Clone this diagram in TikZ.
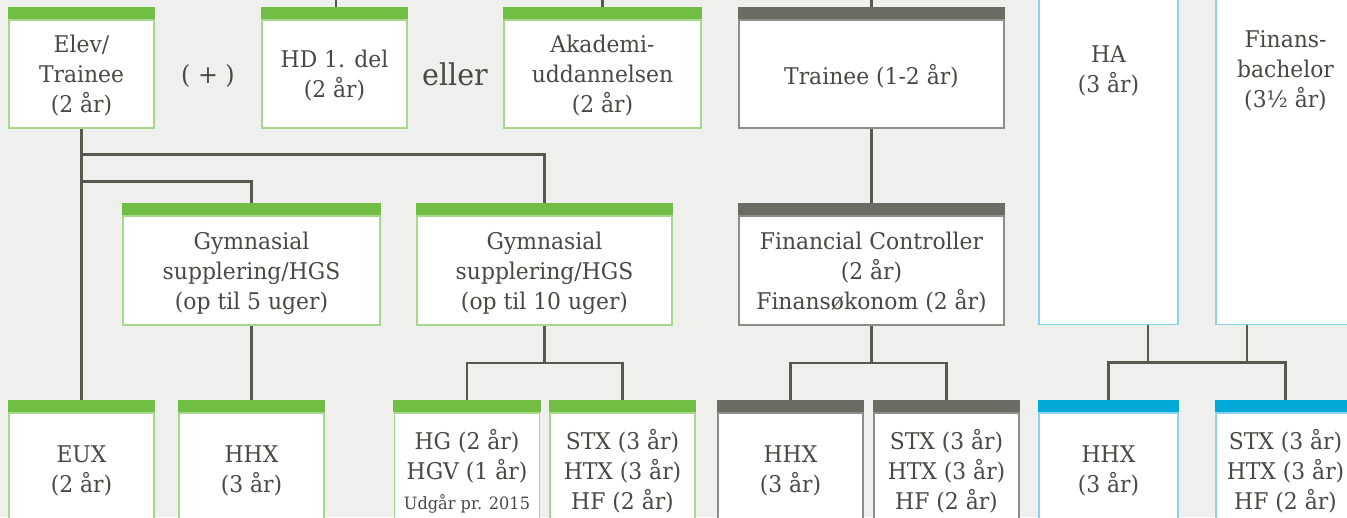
\documentclass[tikz,border=0pt]{standalone}
\usepackage{fontspec}
\setmainfont{DejaVu Serif}[FakeStretch=0.95]
\usetikzlibrary{positioning}

\definecolor{paper}{HTML}{EFEFED}
\definecolor{ink}{HTML}{464A40}
\definecolor{wire}{HTML}{555A4F}
\definecolor{greenbar}{HTML}{72BE44}
\definecolor{greenline}{HTML}{A5D88C}
\definecolor{greybar}{HTML}{696D63}
\definecolor{greyline}{HTML}{8C8E88}
\definecolor{bluebar}{HTML}{00A9D6}
\definecolor{blueline}{HTML}{8AD3EC}

\pgfdeclarelayer{bg}
\pgfdeclarelayer{lines}
\pgfsetlayers{bg,lines,main}

\tikzset{
  txt/.style={text=ink, align=center, text depth=0pt, font=\fontsize{23}{30}\selectfont},
  box/.style={txt, draw=#1, fill=white, line width=1.2pt, minimum width=145pt, inner sep=0pt},
  bar/.style={append after command={\pgfextra{\fill[#1] ([xshift=-0.6pt]\tikzlastnode.north west) rectangle ([xshift=0.6pt,yshift=12pt]\tikzlastnode.north east);}}},
  greenbox/.style={box=greenline, bar=greenbar},
  greybox/.style={box=greyline, bar=greybar},
  bluebox/.style={box=blueline, bar=bluebar, minimum width=139pt},
  link/.style={draw=wire, line width=2.6pt},
}

\begin{document}
\begin{tikzpicture}[x=1pt, y=-1pt, on grid]
  \useasboundingbox (0,0) rectangle (1347,517);
  \begin{pgfonlayer}{bg}
    \fill[paper] (0,0) rectangle (1347,517);
  \end{pgfonlayer}

  % top row
  \node[greenbox, minimum height=108pt] (elev) at (81.5,74) {Elev/\\Trainee\\(2 år)};
  \node[txt, font=\fontsize{25}{30}\selectfont] (plus) at (208,74) {( + )};
  \node[greenbox, minimum height=108pt] (hd) [right=253pt of elev] {HD 1. del\\(2 år)};
  \node[txt, font=\fontsize{30}{36}\selectfont] (eller) at (455,74) {eller};
  \node[greenbox, minimum height=108pt, minimum width=197pt] (akad) [right=268pt of hd] {Akademi-\\uddannelsen\\(2 år)};
  \node[greybox, minimum height=108pt, minimum width=265pt] (trainee) [right=269pt of akad] {Trainee (1-2 år)};

  % middle row
  \node[greenbox, minimum height=109pt, minimum width=257pt] (gym1) at (251.5,270.5) {Gymnasial\\supplering/HGS\\(op til 5 uger)};
  \node[greenbox, minimum height=109pt, minimum width=255pt] (gym2) [right=293pt of gym1] {Gymnasial\\supplering/HGS\\(op til 10 uger)};
  \node[greybox, minimum height=109pt, minimum width=265pt] (fc) [below=196.5pt of trainee] {Financial Controller\\(2 år)\\Finansøkonom (2 år)};
  \node[bluebox, minimum height=345pt, anchor=south,
        label={[txt, anchor=center, yshift=-90pt]north:HA\\(3 år)}] (ha) at (1108.5,325) {};
  \node[bluebox, minimum height=345pt, anchor=south,
        label={[txt, anchor=center, yshift=-90pt]north:Finans-\\bachelor\\(3½ år)}] (fin) at (1285.5,325) {};

  % bottom row
  \node[greenbox, minimum height=112pt] (eux) [below=395pt of elev] {EUX\\(2 år)};
  \node[greenbox, minimum height=112pt] (hhxa) [below=198.5pt of gym1] {HHX\\(3 år)};
  \node[greenbox, minimum height=112pt] (hg) at (467,469) {HG (2 år)\\HGV (1 år)\\{\fontsize{17}{26}\selectfont Udgår pr. 2015}};
  \node[greenbox, minimum height=112pt] (stxa) [right=155.5pt of hg] {STX (3 år)\\HTX (3 år)\\HF (2 år)};
  \node[greybox, minimum height=112pt] (hhxb) at (790.5,469) {HHX\\(3 år)};
  \node[greybox, minimum height=112pt] (stxb) [right=156pt of hhxb] {STX (3 år)\\HTX (3 år)\\HF (2 år)};
  \node[bluebox, minimum height=112pt] (hhxc) at (1108.5,469) {HHX\\(3 år)};
  \node[bluebox, minimum height=112pt] (stxc) [right=177pt of hhxc] {STX (3 år)\\HTX (3 år)\\HF (2 år)};

  % connectors
  \begin{pgfonlayer}{lines}
    \coordinate (hdin) at (336,-10);
    \coordinate (akin) at (602.5,-10);
    \coordinate (trin) at (871.5,-10);
    \draw[link] (hdin) -- (hdin |- hd.north);
    \draw[link] (akin) -- (akad);
    \draw[link] (trin) -- (trainee);

    \coordinate (j1) at ([yshift=-26pt]elev.south);
    \coordinate (j2) at ([yshift=-53pt]elev.south);
    \draw[link] (elev) -- (eux);
    \draw[link] (j1) -| (gym2.north);
    \draw[link] (j2) -| (gym1.north);
    \draw[link] (gym1) -- (hhxa);

    \coordinate (j3) at ([yshift=-37.5pt]gym2.south);
    \draw[link] (gym2.south) -- (j3);
    \draw[link] (hg.north) |- (j3) -| (stxa.north);

    \draw[link] (trainee) -- (fc);
    \coordinate (j4) at ([yshift=-37.5pt]fc.south);
    \draw[link] (fc.south) -- (j4);
    \draw[link] (hhxb.north) |- (j4) -| (stxb.north);

    \coordinate (j5) at ([xshift=39.5pt,yshift=-37.5pt]ha.south);
    \coordinate (j6) at ([xshift=-38.5pt,yshift=-37.5pt]fin.south);
    \draw[link] ([xshift=39.5pt]ha.south) -- (j5);
    \draw[link] ([xshift=-38.5pt]fin.south) -- (j6);
    \draw[link] (hhxc.north) |- (j5) -- (j6) -| (stxc.north);
  \end{pgfonlayer}
\end{tikzpicture}
\end{document}
